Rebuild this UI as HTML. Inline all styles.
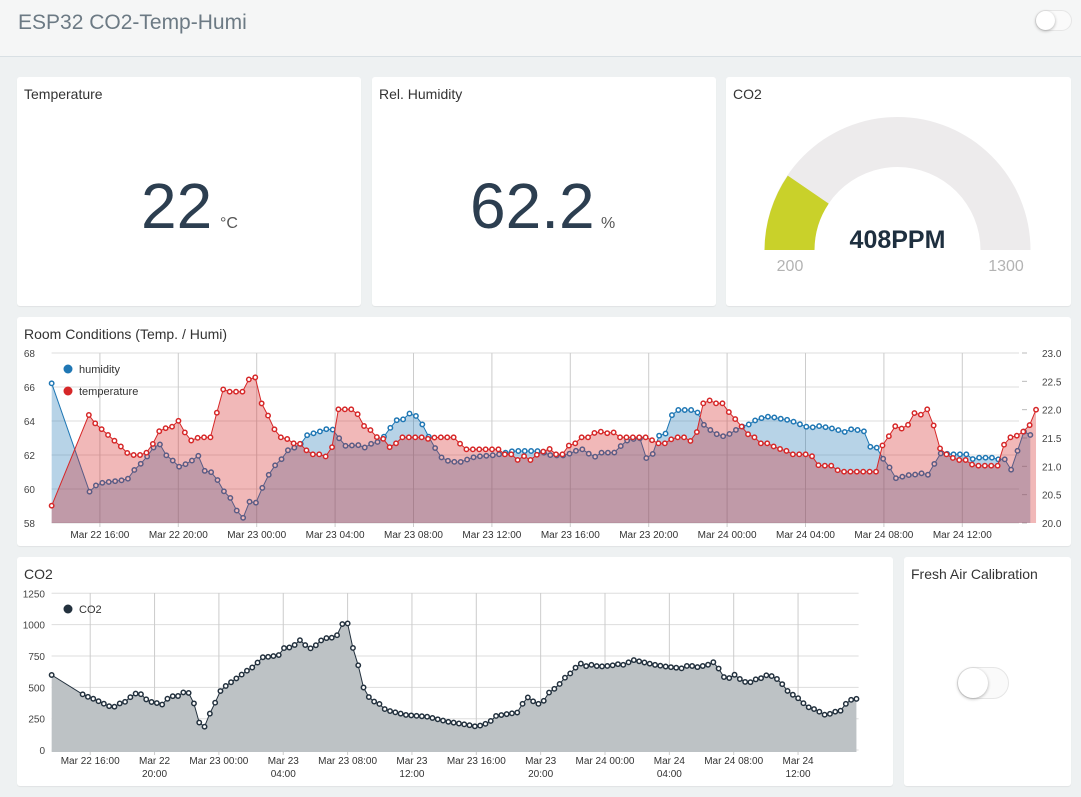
<!DOCTYPE html>
<html><head><meta charset="utf-8">
<style>
body{margin:0;width:1081px;height:797px;background:#eef1f2;font-family:"Liberation Sans",sans-serif;position:relative;overflow:hidden}
.hdr{position:absolute;left:0;top:0;width:1081px;height:56px;background:#f5f6f6;border-bottom:1px solid #d9e0e4}
.hdr .t{position:absolute;left:18px;top:11px;font-size:21px;color:#6c7a84}
.card{position:absolute;background:#fff;border-radius:3px;box-shadow:0 1px 1px rgba(0,0,0,0.06)}
.ct{position:absolute;left:7px;top:9px;font-size:14px;color:#333}
.big{position:absolute;font-size:64px;color:#2c3e50;font-weight:300}
.unit{position:absolute;font-size:16px;color:#555}
.tg{position:absolute;border-radius:20px;background:#fafafa;border:1px solid #e6e6e6}
.tg i{position:absolute;left:0;top:0;border-radius:50%;background:#fff;box-shadow:0 1px 3px rgba(0,0,0,0.3)}
svg{position:absolute;left:0;top:0}
</style></head><body>
<div class="hdr"><div class="t">ESP32 CO2-Temp-Humi</div>
<div class="tg" style="left:1035px;top:10px;width:35px;height:19px"><i style="width:19px;height:19px"></i></div></div>

<div class="card" style="left:17px;top:77px;width:344px;height:229px"><div class="ct">Temperature</div>
<div class="big" style="left:124px;top:92px">22</div><div class="unit" style="left:203px;top:138px">°C</div></div>
<div class="card" style="left:372px;top:77px;width:344px;height:229px"><div class="ct">Rel. Humidity</div>
<div class="big" style="left:98px;top:92px">62.2</div><div class="unit" style="left:229px;top:138px">%</div></div>
<div class="card" style="left:726px;top:77px;width:345px;height:229px"><div class="ct">CO2</div></div>
<div class="card" style="left:17px;top:317px;width:1054px;height:229px"><div class="ct">Room Conditions (Temp. / Humi)</div></div>
<div class="card" style="left:17px;top:557px;width:876px;height:229px"><div class="ct">CO2</div></div>
<div class="card" style="left:904px;top:557px;width:167px;height:229px"><div class="ct">Fresh Air Calibration</div>
<div class="tg" style="left:53px;top:110px;width:50px;height:30px"><i style="width:30px;height:30px"></i></div></div>

<svg id="s" width="1081" height="797" xmlns="http://www.w3.org/2000/svg" font-family="Liberation Sans, sans-serif">
<path d="M764.5,250 A133,133 0 0 1 1030.5,250 L980.5,250 A83,83 0 0 0 814.5,250 Z" fill="#edebec"/>
<path d="M764.5,250 A133,133 0 0 1 787.8,175.6 L828.7,203.6 A83,83 0 0 0 814.5,250 Z" fill="#c9d12a"/>
<text x="897.5" y="248" text-anchor="middle" font-size="25" font-weight="bold" fill="#1e2f3f">408PPM</text>
<text x="790" y="271" text-anchor="middle" font-size="16" fill="#b3b3b3">200</text>
<text x="1006" y="271" text-anchor="middle" font-size="16" fill="#b3b3b3">1300</text>
<g id="g"></g>
</svg>
<script>
var NS="http://www.w3.org/2000/svg",G=document.getElementById("g");
function el(t,a,tx){var e=document.createElementNS(NS,t);for(var k in a)e.setAttribute(k,a[k]);if(tx!=null)e.textContent=tx;G.appendChild(e);return e;}
function conv(arr,sx,ox,oy){return arr.map(function(p){return [p[0]/sx+ox,p[1]/3+oy];});}
function resample(pts,step){var out=[],x0=pts[0][0],x1=pts[pts.length-1][0],j=0;
 for(var x=x0;x<=x1+0.01;x+=step){while(j<pts.length-2&&pts[j+1][0]<x)j++;var a=pts[j],b=pts[j+1];var t=(b[0]-a[0])?(x-a[0])/(b[0]-a[0]):0;t=Math.max(0,Math.min(1,t));out.push([x,a[1]+(b[1]-a[1])*t]);}
 return out;}
function series(pts,base,fill,stroke,mstroke,r){
 var d=pts.map(function(p,i){return (i?"L":"M")+p[0].toFixed(1)+","+p[1].toFixed(1);}).join("");
 el("path",{d:d+"L"+pts[pts.length-1][0]+","+base+"L"+pts[0][0]+","+base+"Z",fill:fill});
 el("path",{d:d,fill:"none",stroke:stroke,"stroke-width":1});
 pts.forEach(function(p){el("circle",{cx:p[0],cy:p[1],r:r,fill:"#fff",stroke:mstroke,"stroke-width":1.5});});}
var L=51.6,R=1019;
for(var i=0;i<6;i++){var y=353+i*34;el("line",{x1:L,x2:R,y1:y,y2:y,stroke:"#ddd"});
 el("text",{x:35,y:y+4,"text-anchor":"end","font-size":10,fill:"#444"},[68,66,64,62,60,58][i]);}
var rl=["23.0","22.5","22.0","21.5","21.0","20.5","20.0"];
for(i=0;i<7;i++){var y=353+i*28.33;el("line",{x1:R+3,x2:R+8,y1:y,y2:y,stroke:"#bbb"});
 el("text",{x:1042,y:y+4,"font-size":10,fill:"#444"},rl[i]);}
var labs=["Mar 22 16:00","Mar 22 20:00","Mar 23 00:00","Mar 23 04:00","Mar 23 08:00","Mar 23 12:00","Mar 23 16:00","Mar 23 20:00","Mar 24 00:00","Mar 24 04:00","Mar 24 08:00","Mar 24 12:00"];
for(i=0;i<12;i++){var x=99.9+i*78.4;el("line",{x1:x,x2:x,y1:353,y2:527,stroke:"#ccc"});
 el("text",{x:x,y:538,"text-anchor":"middle","font-size":10,fill:"#333"},labs[i]);}
var b1=[[150,190],[260,515],[285,490],[360,480],[375,475],[390,450],[420,420],[460,362],[475,400],[495,415],[520,440],[545,430],[560,420],[575,405],[590,445],[605,470],[620,445],[640,505],[655,518],[670,535],[685,568],[705,598],[718,540],[740,557],[755,515],[770,490],[780,465],[795,440],[810,425],[820,415],[840,385],[855,383],[870,380],[880,355],[895,343],[920,338],[940,330],[955,325],[970,330],[985,355],[995,378],[1040,375],[1055,385],[1080,370],[1100,365],[1120,345],[1137,318],[1150,300],[1165,303],[1180,290],[1195,275],[1210,290],[1225,312],[1240,325],[1250,375],[1265,385],[1280,410],[1295,425],[1310,418],[1325,430],[1340,425],[1380,410],[1440,405],[1490,393],[1560,393]];
var b2=[[20,400],[35,408],[60,405],[75,408],[90,398],[105,392],[120,388],[135,388],[148,415],[165,408],[178,398],[215,398],[230,383],[245,365],[260,358],[290,355],[300,398],[316,430],[330,393],[342,348],[360,342],[372,338],[383,282],[398,270],[445,270],[457,278],[468,305],[483,325],[500,333],[513,343],[527,350],[540,345],[555,340],[570,328],[590,318],[610,312],[625,300],[640,295],[655,290],[670,290],[690,295],[720,300],[740,307],[770,320],[790,322],[810,318],[830,322],[860,328],[880,338],[895,327],[920,330],[937,327],[950,378],[965,383],[983,383],[995,418],[1008,430],[1022,465],[1037,480],[1050,470],[1065,470],[1080,450],[1093,475],[1105,460],[1118,458],[1130,470],[1145,425],[1160,400],[1200,403],[1240,403],[1255,418],[1270,413],[1310,413],[1325,418],[1350,418],[1365,450],[1380,408],[1395,348],[1408,325],[1423,348],[1438,395]];
var r1=[[150,557],[258,285],[268,302],[285,318],[360,388],[375,405],[420,405],[433,388],[445,370],[460,335],[490,320],[505,320],[520,300],[535,335],[548,352],[562,370],[575,352],[620,352],[640,200],[655,215],[705,215],[718,182],[740,165],[752,235],[770,270],[785,300],[800,335],[815,352],[830,352],[845,370],[870,370],[885,385],[900,403],[940,403],[955,420],[967,370],[980,268],[1030,268],[1040,285],[1050,318],[1065,318],[1080,335],[1095,352],[1110,352],[1122,370],[1137,388],[1150,370],[1165,352],[1240,352],[1252,370],[1262,352],[1325,352],[1335,370],[1350,388],[1450,388],[1460,403],[1495,403],[1503,420],[1518,403],[1530,420],[1548,420],[1560,403]];
var r2=[[0,403],[18,387],[35,387],[45,403],[65,403],[77,387],[88,370],[105,370],[118,352],[150,352],[160,335],[192,335],[203,352],[215,335],[230,352],[320,352],[330,370],[375,370],[383,352],[430,352],[440,370],[455,335],[468,250],[485,250],[498,233],[510,250],[530,250],[540,268],[555,285],[570,302],[583,318],[597,335],[610,352],[625,352],[640,370],[670,370],[683,387],[710,387],[722,403],[785,403],[795,420],[808,437],[855,437],[865,455],[985,455],[993,370],[1008,352],[1023,335],[1037,300],[1052,335],[1065,318],[1080,285],[1095,268],[1103,285],[1115,268],[1135,268],[1145,352],[1160,387],[1175,403],[1190,403],[1200,420],[1240,420],[1255,437],[1330,437],[1350,352],[1380,352],[1393,318],[1408,352],[1423,302],[1438,268]];
var hum=conv(b1,2.904,0,320).concat(conv(b2,2.898,540,320));
var tem=conv(r1,2.904,0,320).concat(conv(r2,2.898,540,320));
series([hum[0],hum[1]].concat(resample(hum.slice(1),6.4).slice(1)),523,"rgba(31,119,180,0.32)","#1f77b4","#1f77b4",2.2);
series([tem[0]].concat(resample(tem.slice(1),6.4)),523,"rgba(214,39,40,0.33)","#d62728","#d62728",2.2);
el("circle",{cx:68,cy:369,r:4.5,fill:"#1f77b4"});el("text",{x:79,y:373,"font-size":11,fill:"#333"},"humidity");
el("circle",{cx:68,cy:391,r:4.5,fill:"#d62728"});el("text",{x:79,y:395,"font-size":11,fill:"#333"},"temperature");
var CR=858.6;
var yl=["1250","1000","750","500","250","0"];
for(i=0;i<6;i++){var y=593.3+i*31.35;el("line",{x1:L,x2:CR,y1:y,y2:y,stroke:"#ddd"});
 el("text",{x:45,y:y+4,"text-anchor":"end","font-size":10,fill:"#444"},yl[i]);}
var cl=[["Mar 22 16:00"],["Mar 22","20:00"],["Mar 23 00:00"],["Mar 23","04:00"],["Mar 23 08:00"],["Mar 23","12:00"],["Mar 23 16:00"],["Mar 23","20:00"],["Mar 24 00:00"],["Mar 24","04:00"],["Mar 24 08:00"],["Mar 24","12:00"]];
for(i=0;i<12;i++){var x=90.2+i*64.35;el("line",{x1:x,x2:x,y1:593,y2:755,stroke:"#ccc"});
 el("text",{x:x,y:764,"text-anchor":"middle","font-size":10,fill:"#333"},cl[i][0]);
 if(cl[i][1])el("text",{x:x,y:777,"text-anchor":"middle","font-size":10,fill:"#333"},cl[i][1]);}
var c1=[[150,345],[240,403],[245,408],[262,412],[320,440],[335,440],[348,430],[365,425],[378,412],[395,400],[407,400],[420,415],[435,425],[460,430],[475,435],[490,410],[505,408],[520,408],[535,395],[552,400],[565,435],[577,482],[588,520],[603,470],[617,450],[633,405],[645,385],[660,375],[680,360],[700,345],[720,330],[740,318],[760,292],[785,290],[810,285],[830,257],[845,265],[880,232],[890,268],[910,263],[925,248],[940,235],[975,232],[985,215],[995,190],[1005,170],[1018,228],[1030,290],[1042,320],[1052,378],[1062,390],[1075,420],[1100,430],[1120,450],[1180,465],[1240,470],[1300,485],[1360,495],[1385,500],[1420,488],[1440,468]];
var c2=[[20,462],[50,457],[58,435],[70,420],[80,405],[90,425],[100,432],[115,430],[125,405],[140,390],[155,382],[165,365],[178,350],[190,340],[200,328],[210,315],[220,310],[235,320],[250,313],[265,320],[300,317],[320,312],[335,315],[350,305],[360,300],[380,305],[420,315],[450,320],[490,325],[510,315],[530,322],[560,315],[585,302],[595,348],[610,353],[625,355],[640,335],[650,365],[685,367],[695,350],[710,357],[722,342],[740,352],[755,362],[768,382],[780,398],[800,410],[815,425],[828,440],[850,448],[870,460],[885,470],[900,447],[912,467],[925,440],[945,420],[970,415]];
var co=conv(c1,2.904,0,560).concat(conv(c2,2.699,500,560));
series([co[0]].concat(resample(co.slice(1),5.3)),752,"#bdc2c5","#23313e","#23313e",2.2);
el("circle",{cx:68,cy:609,r:4.5,fill:"#23313e"});el("text",{x:79,y:613,"font-size":11,fill:"#333"},"CO2");
</script>
</body></html>
